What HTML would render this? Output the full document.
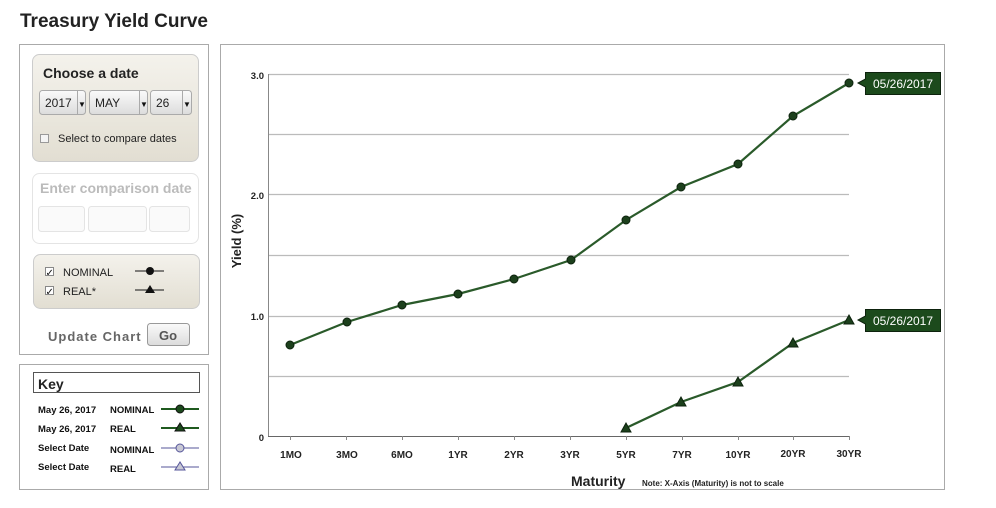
<!DOCTYPE html>
<html><head><meta charset="utf-8"><style>
body{margin:0;width:996px;height:503px;background:#fff;overflow:hidden;font-family:"Liberation Sans",Arial,sans-serif}
svg text{font-family:"Liberation Sans",Arial,sans-serif}
</style></head><body>
<svg width="996" height="503" xmlns="http://www.w3.org/2000/svg">
<defs>
<linearGradient id="bg1" x1="0" y1="0" x2="0" y2="1"><stop offset="0" stop-color="#f4f2ec"/><stop offset="1" stop-color="#e2ded2"/></linearGradient>
<linearGradient id="sel" x1="0" y1="0" x2="0" y2="1"><stop offset="0" stop-color="#fafafa"/><stop offset="1" stop-color="#dcdcdc"/></linearGradient>
</defs>
<text x="20" y="27" font-size="19" font-weight="bold" fill="#222">Treasury Yield Curve</text>
<!-- left panel -->
<rect x="19.5" y="44.5" width="189" height="310" fill="#fff" stroke="#aaa"/>
<rect x="32.5" y="54.5" width="166" height="107" rx="7" fill="url(#bg1)" stroke="#ccc"/>
<text x="43" y="78" font-size="14" font-weight="bold" fill="#222">Choose a date</text>
<rect x="39.5" y="90.5" width="46" height="24" rx="3" fill="url(#sel)" stroke="#aaa"/>
<text x="45" y="107" font-size="12" fill="#222">2017</text><line x1="77.5" y1="91" x2="77.5" y2="114" stroke="#aaa"/><text x="78" y="107" font-size="8" fill="#111">▼</text>
<rect x="89.5" y="90.5" width="58" height="24" rx="3" fill="url(#sel)" stroke="#aaa"/>
<text x="95" y="107" font-size="12" fill="#222">MAY</text><line x1="139.5" y1="91" x2="139.5" y2="114" stroke="#aaa"/><text x="140" y="107" font-size="8" fill="#111">▼</text>
<rect x="150.5" y="90.5" width="41" height="24" rx="3" fill="url(#sel)" stroke="#aaa"/>
<text x="156" y="107" font-size="12" fill="#222">26</text><line x1="182.5" y1="91" x2="182.5" y2="114" stroke="#aaa"/><text x="183" y="107" font-size="8" fill="#111">▼</text>
<rect x="40.5" y="134.5" width="8" height="8" fill="#f4f4f4" stroke="#999"/>
<text x="58" y="142" font-size="11" fill="#222">Select to compare dates</text>
<rect x="32.5" y="173.5" width="166" height="70" rx="7" fill="#fff" stroke="#e4e4e4"/>
<text x="40" y="193" font-size="14" font-weight="bold" fill="#bbb">Enter comparison date</text>
<rect x="38.5" y="206.5" width="46" height="25" rx="3" fill="#fafafa" stroke="#e4e4e4"/>
<rect x="88.5" y="206.5" width="58" height="25" rx="3" fill="#fafafa" stroke="#e4e4e4"/>
<rect x="149.5" y="206.5" width="40" height="25" rx="3" fill="#fafafa" stroke="#e4e4e4"/>
<rect x="33.5" y="254.5" width="166" height="54" rx="7" fill="url(#bg1)" stroke="#ccc"/>
<rect x="45.5" y="267.5" width="8" height="8" fill="#fff" stroke="#888"/><text x="45.5" y="276" font-size="10" fill="#111">✓</text>
<text x="63" y="276" font-size="11" fill="#222">NOMINAL</text>
<rect x="45.5" y="286.5" width="8" height="8" fill="#fff" stroke="#888"/><text x="45.5" y="295" font-size="10" fill="#111">✓</text>
<text x="63" y="295" font-size="11" fill="#222">REAL*</text>
<line x1="135" y1="271" x2="164" y2="271" stroke="#111"/><circle cx="150" cy="271" r="4" fill="#111"/>
<line x1="135" y1="290" x2="164" y2="290" stroke="#111"/><polygon points="150,285 145,293 155,293" fill="#111"/>
<text x="48" y="341" font-size="13" font-weight="bold" fill="#666" letter-spacing="1">Update Chart</text>
<rect x="147.5" y="323.5" width="42" height="22" rx="3" fill="url(#sel)" stroke="#999"/>
<text x="159" y="340" font-size="13" font-weight="bold" fill="#555">Go</text>
<!-- key -->
<rect x="19.5" y="364.5" width="189" height="125" fill="#fff" stroke="#aaa"/>
<rect x="33.5" y="372.5" width="166" height="20" fill="#fff" stroke="#555"/>
<text x="38" y="389" font-size="14" font-weight="bold" fill="#222">Key</text>
<g font-size="9.5" font-weight="bold" fill="#111">
<text x="38" y="413">May 26, 2017</text><text x="110" y="413">NOMINAL</text>
<text x="38" y="432">May 26, 2017</text><text x="110" y="432">REAL</text>
<text x="38" y="451">Select Date</text><text x="110" y="453">NOMINAL</text>
<text x="38" y="470">Select Date</text><text x="110" y="472">REAL</text>
</g>
<line x1="161" y1="409" x2="199" y2="409" stroke="#1f5a1f" stroke-width="2"/><circle cx="180" cy="409" r="4" fill="#1c4a1c" stroke="#111"/>
<line x1="161" y1="428" x2="199" y2="428" stroke="#1f5a1f" stroke-width="2"/><polygon points="180,423 175,431 185,431" fill="#1c4a1c" stroke="#111"/>
<line x1="161" y1="448" x2="199" y2="448" stroke="#55559a"/><circle cx="180" cy="448" r="4" fill="#c8c8d4" stroke="#55559a"/>
<line x1="161" y1="467" x2="199" y2="467" stroke="#55559a"/><polygon points="180,462 175,470 185,470" fill="#c8c8d4" stroke="#55559a"/>
<!-- chart box -->
<rect x="220.5" y="44.5" width="724" height="445" fill="#fff" stroke="#aaa"/>
<g stroke="#bbb" stroke-width="1.2">
<line x1="269" y1="74.5" x2="849" y2="74.5"/><line x1="269" y1="134.5" x2="849" y2="134.5"/>
<line x1="269" y1="194.5" x2="849" y2="194.5"/><line x1="269" y1="255.5" x2="849" y2="255.5"/>
<line x1="269" y1="316.5" x2="849" y2="316.5"/><line x1="269" y1="376.5" x2="849" y2="376.5"/>
</g>
<line x1="268.5" y1="74" x2="268.5" y2="437" stroke="#888"/>
<line x1="268" y1="436.5" x2="849" y2="436.5" stroke="#666"/>
<g stroke="#888"><line x1="290.5" y1="436" x2="290.5" y2="440"/><line x1="346.5" y1="436" x2="346.5" y2="440"/><line x1="402.5" y1="436" x2="402.5" y2="440"/><line x1="458.5" y1="436" x2="458.5" y2="440"/><line x1="514.5" y1="436" x2="514.5" y2="440"/><line x1="570.5" y1="436" x2="570.5" y2="440"/><line x1="626.5" y1="436" x2="626.5" y2="440"/><line x1="682.5" y1="436" x2="682.5" y2="440"/><line x1="738.5" y1="436" x2="738.5" y2="440"/><line x1="793.5" y1="436" x2="793.5" y2="440"/><line x1="849.5" y1="436" x2="849.5" y2="440"/></g>
<g font-size="9.5" font-weight="bold" fill="#222" text-anchor="end">
<text x="264" y="79">3.0</text><text x="264" y="199">2.0</text><text x="264" y="320">1.0</text><text x="264" y="441">0</text>
</g>
<g font-size="10" font-weight="bold" fill="#222" text-anchor="middle">
<text x="291" y="458">1MO</text><text x="347" y="458">3MO</text><text x="402" y="458">6MO</text><text x="458" y="458">1YR</text><text x="514" y="458">2YR</text><text x="570" y="458">3YR</text><text x="626" y="458">5YR</text><text x="682" y="458">7YR</text><text x="738" y="458">10YR</text><text x="793" y="457">20YR</text><text x="849" y="457">30YR</text>
</g>
<text transform="translate(241,241) rotate(-90)" font-size="13" font-weight="bold" fill="#222" text-anchor="middle">Yield (%)</text>
<text x="571" y="486" font-size="14" font-weight="bold" fill="#222">Maturity</text>
<text x="642" y="486" font-size="8" font-weight="bold" fill="#222">Note: X-Axis (Maturity) is not to scale</text>
<polyline fill="none" stroke="#2a5a2a" stroke-width="2.2" points="290,345 347,322 402,305 458,294 514,279 571,260 626,220 681,187 738,164 793,116 849,83"/>
<g fill="#1c401c" stroke="#0d220d">
<circle cx="290" cy="345" r="4"/><circle cx="347" cy="322" r="4"/><circle cx="402" cy="305" r="4"/><circle cx="458" cy="294" r="4"/><circle cx="514" cy="279" r="4"/><circle cx="571" cy="260" r="4"/><circle cx="626" cy="220" r="4"/><circle cx="681" cy="187" r="4"/><circle cx="738" cy="164" r="4"/><circle cx="793" cy="116" r="4"/><circle cx="849" cy="83" r="4"/>
</g>
<polyline fill="none" stroke="#2a5a2a" stroke-width="2.2" points="626,428 681,402 738,382 793,343 849,320"/>
<g fill="#1c401c" stroke="#0d220d">
<polygon points="626,423 621,432 631,432"/><polygon points="681,397 676,406 686,406"/><polygon points="738,377 733,386 743,386"/><polygon points="793,338 788,347 798,347"/><polygon points="849,315 844,324 854,324"/>
</g>
<g>
<polygon points="865.5,72.5 940.5,72.5 940.5,94.5 865.5,94.5 865.5,87 858,83 865.5,79" fill="#1c4a1c" stroke="#0d220d"/>
<text x="903" y="88" font-size="12" fill="#fff" text-anchor="middle">05/26/2017</text>
<polygon points="865.5,309.5 940.5,309.5 940.5,331.5 865.5,331.5 865.5,324 858,320 865.5,316" fill="#1c4a1c" stroke="#0d220d"/>
<text x="903" y="325" font-size="12" fill="#fff" text-anchor="middle">05/26/2017</text>
</g>
</svg>
</body></html>
